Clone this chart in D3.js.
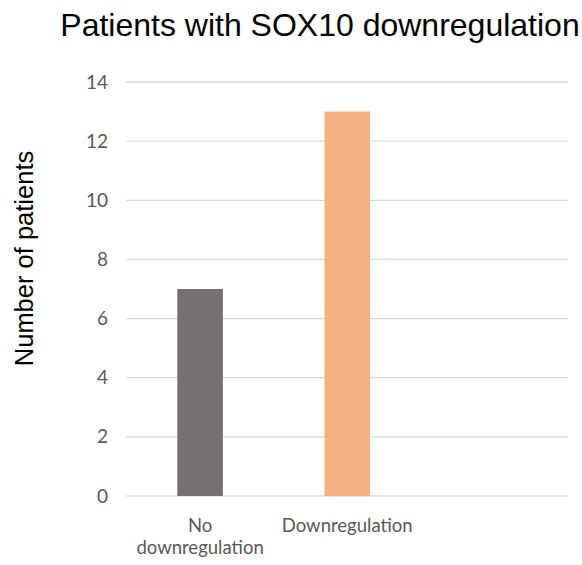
<!DOCTYPE html>
<html>
<head>
<meta charset="utf-8">
<script src="https://cdn.jsdelivr.net/npm/d3@7"></script>
<style>
  html, body { margin: 0; padding: 0; background: #ffffff; }
  svg { display: block; }
</style>
</head>
<body>
<svg id="chart" width="582" height="565"></svg>
<script>
// Patient counts by SOX10 status (third slot left empty)
const categories = ["No downregulation", "Downregulation", ""];
const labelLines = [["No", "downregulation"], ["Downregulation"], []];
const values = [7, 13, null];
const barColors = ["#767171", "#F4B183", "#cccccc"];
const yTicks = [0, 2, 4, 6, 8, 10, 12, 14];

const svg = d3.select("#chart");
const plotLeft = 126.5, plotRight = 568, plotTop = 82, plotBottom = 496;

const x = d3.scaleBand().domain(categories).range([plotLeft, plotRight]).paddingInner(0.69).paddingOuter(0.345);
const y = d3.scaleLinear().domain([0, 14]).range([plotBottom, plotTop]);

// horizontal gridlines
svg.append("g").selectAll("line").data(yTicks).join("line")
  .attr("x1", plotLeft).attr("x2", plotRight)
  .attr("y1", d => y(d)).attr("y2", d => y(d))
  .attr("stroke", "#d9d9d9").attr("stroke-width", 1.3);

// y tick labels
const yAxis = d3.axisLeft(y).tickValues(yTicks).tickSize(0).tickPadding(0);
const gy = svg.append("g").attr("transform", `translate(108,0)`).call(yAxis);
gy.select(".domain").remove();
gy.selectAll("text")
  .attr("fill", "#595959")
  .style("font-family", "Lato, 'Open Sans', sans-serif")
  .style("font-size", "19px");

// bars
svg.append("g").selectAll("rect").data(categories.map((c, i) => ({c, v: values[i], i})).filter(d => d.v != null))
  .join("rect")
  .attr("x", d => x(d.c))
  .attr("width", x.bandwidth())
  .attr("y", d => y(d.v))
  .attr("height", d => y(0) - y(d.v))
  .attr("fill", d => barColors[d.i]);

// category labels
const cat = svg.append("g");
categories.forEach((c, i) => {
  const cx = x(c) + x.bandwidth() / 2;
  const t = cat.append("text")
    .attr("text-anchor", "middle")
    .attr("fill", "#595959")
    .style("font-family", "Lato, 'Open Sans', sans-serif")
    .style("font-size", "18.5px");
  labelLines[i].forEach((ln, j) => {
    t.append("tspan").attr("x", cx).attr("y", 532 + j * 22).text(ln);
  });
});

// title
svg.append("text")
  .attr("x", 320).attr("y", 36)
  .attr("text-anchor", "middle")
  .attr("fill", "#000000")
  .style("font-family", "'Liberation Sans', Arial, sans-serif")
  .style("font-size", "32px")
  .text("Patients with SOX10 downregulation");

// y axis title
svg.append("text")
  .attr("transform", "translate(33,258.5) rotate(-90)")
  .attr("text-anchor", "middle")
  .attr("fill", "#000000")
  .style("font-family", "'Liberation Sans', Arial, sans-serif")
  .style("font-size", "25.5px")
  .text("Number of patients");
</script>
</body>
</html>
